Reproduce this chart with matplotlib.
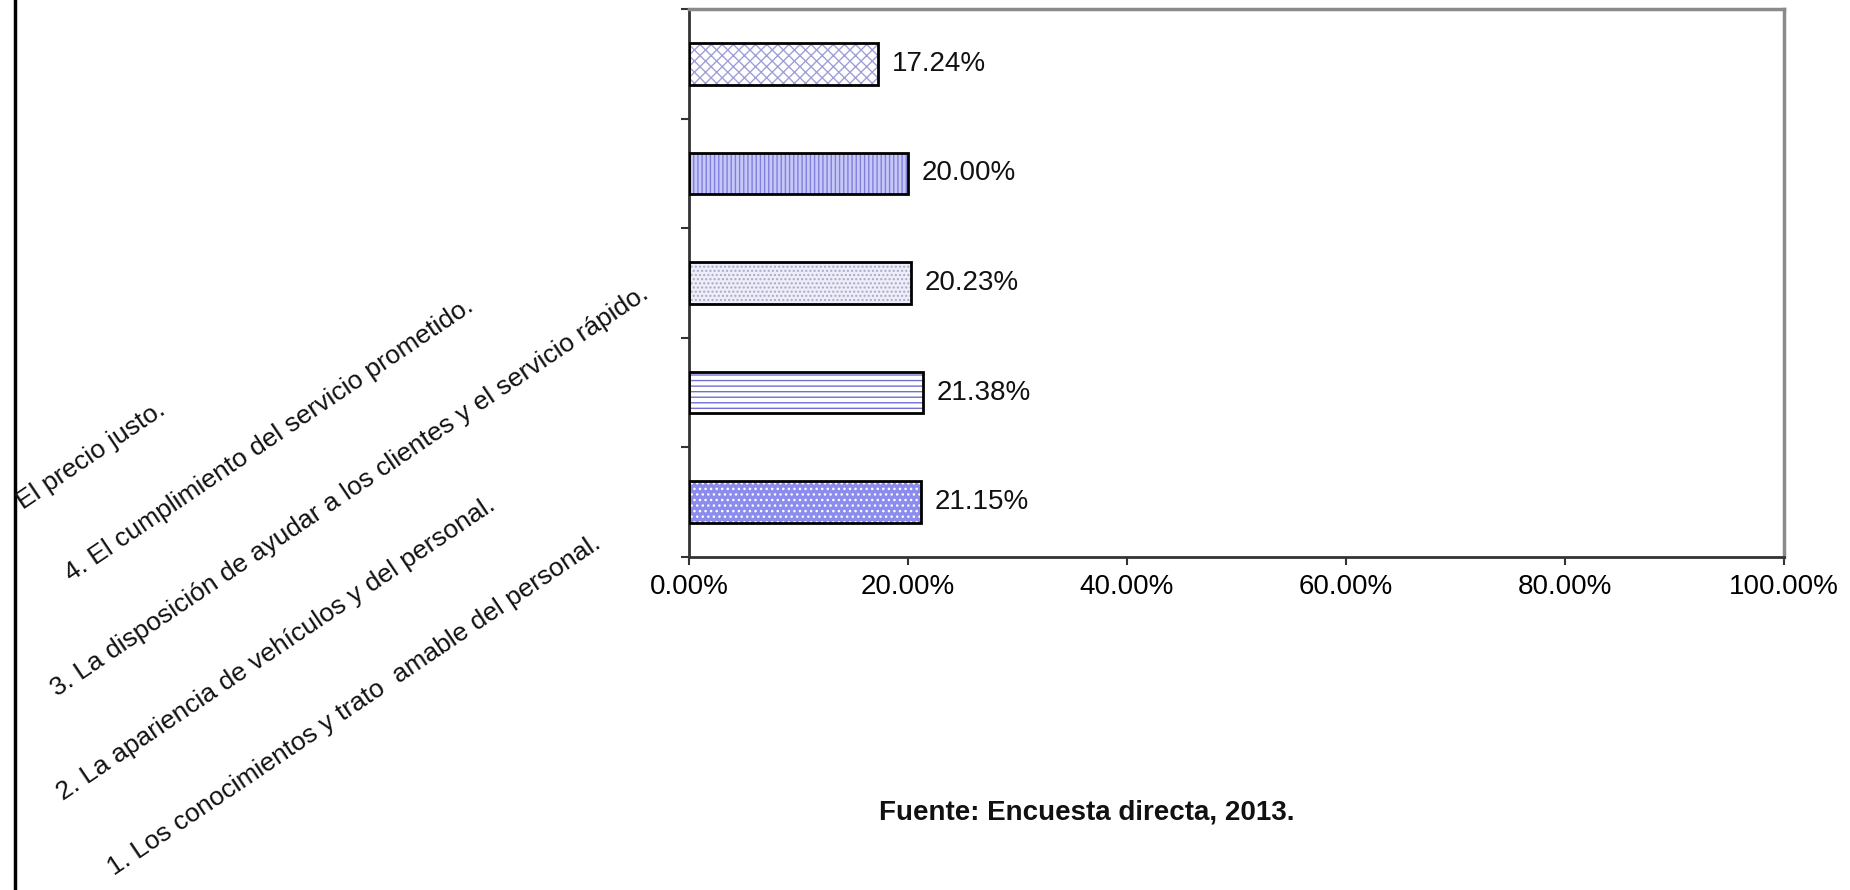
import matplotlib
matplotlib.use("Agg")
import matplotlib.pyplot as plt
import numpy as np

plt.rcParams['font.family'] = ['Liberation Sans', 'DejaVu Sans']
plt.rcParams['hatch.linewidth'] = 1.0

# data, bottom to top
categories = [
    "1. Los conocimientos y trato  amable del personal.",
    "2. La apariencia de vehículos y del personal.",
    "3. La disposición de ayudar a los clientes y el servicio rápido.",
    "4. El cumplimiento del servicio prometido.",
    "El precio justo.",
]
values = [21.15, 21.38, 20.23, 20.00, 17.24]
xticks = [0, 20, 40, 60, 80, 100]

# bar styles (face, hatch, hatch colour)
faces = ["#8c8cee", "white", "#eeeef8", "#c8c8f8", "white"]
hatches = ["...", "---", "....", "||||", "xxx"]
hatch_cols = ["white", "#7070d0", "#a8a8cc", "#8080dc", "#a0a0d8"]

# where the slanted category labels end (figure pixels, from top-left)
label_ends = [(602, 547), (497, 508), (650, 297), (475, 310), (167, 413)]

W, H = 1850, 890
fig = plt.figure(figsize=(W / 100, H / 100), dpi=100)
ax = fig.add_axes([689 / W, 1 - 557 / H, 1095 / W, 548 / H])

y = np.arange(len(values))
# fill + hatch first, then the black outline on top
ax.barh(y, values, height=0.38, color=faces, edgecolor=hatch_cols,
        hatch=hatches, linewidth=0, zorder=2)
ax.barh(y, values, height=0.38, color="none", edgecolor="black",
        linewidth=2, zorder=3)

for yi, v in zip(y, values):
    ax.annotate(f"{v:.2f}%", (v, yi), xytext=(10, 0), textcoords="offset points",
                va="center", ha="left", fontsize=20, color="#111111")

ax.set_xlim(0, 100)
ax.set_ylim(-0.5, len(values) - 0.5)
ax.set_xticks(xticks)
ax.set_xticklabels([f"{t:.2f}%" for t in xticks], fontsize=20)
ax.set_yticks(np.arange(-0.5, len(values)))
ax.set_yticklabels([])
ax.tick_params(axis="both", direction="out", length=6, width=1.5, color="#333333")
ax.tick_params(axis="x", pad=6)

for side in ["top", "right"]:
    ax.spines[side].set_color("#8a8a8a")
    ax.spines[side].set_linewidth(2.5)
for side in ["left", "bottom"]:
    ax.spines[side].set_color("#333333")
    ax.spines[side].set_linewidth(2)

for lab, (ex, ey) in zip(categories, label_ends):
    fig.text(ex / W, 1 - ey / H, lab, rotation=34, rotation_mode="anchor",
             ha="right", va="baseline", fontsize=19, color="#111111")

fig.text(1087 / W, 1 - 812 / H, "Fuente: Encuesta directa, 2013.",
         ha="center", va="center", fontsize=20, fontweight="bold", color="#111111")

# left frame line of the original image
fig.add_artist(plt.Line2D([15 / W, 15 / W], [0, 1], transform=fig.transFigure,
                          color="black", linewidth=2.5))

fig.savefig("out.png", dpi=100, facecolor="white")
